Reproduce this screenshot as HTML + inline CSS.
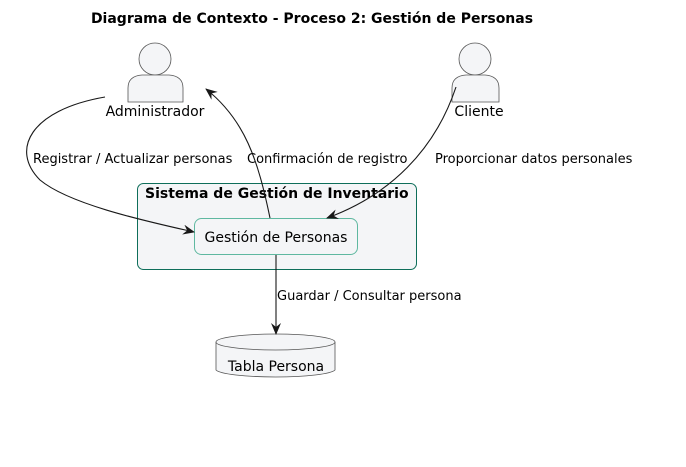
<!DOCTYPE html>
<html><head><meta charset="utf-8"><style>
html,body{margin:0;padding:0;background:#fff;}
svg{display:block;font-family:"DejaVu Sans","Liberation Sans",sans-serif;}
</style></head><body>
<svg width="686" height="467" viewBox="0 0 686 467" xmlns="http://www.w3.org/2000/svg">
<defs>
<marker id="a" viewBox="0 0 12 10" refX="11" refY="5" markerWidth="12" markerHeight="10" markerUnits="userSpaceOnUse" orient="auto">
<path d="M0,0 L12,5 L0,10 L4,5 Z" fill="#181818"/>
</marker>
</defs>
<text x="312" y="23" text-anchor="middle" font-size="14" font-weight="bold" fill="#000">Diagrama de Contexto - Proceso 2: Gestión de Personas</text>

<circle cx="155" cy="59" r="16" fill="#f4f5f7" stroke="#555" stroke-width="0.8"/>
<path d="M128,102 L128,88 Q128,76 142,75 L169,75 Q183,76 183,88 L183,102 Z" fill="#f4f5f7" stroke="#555" stroke-width="0.8"/>
<text x="155" y="116" text-anchor="middle" font-size="14" fill="#000">Administrador</text>

<circle cx="475" cy="59" r="16" fill="#f4f5f7" stroke="#555" stroke-width="0.8"/>
<path d="M452,102 L452,88 Q452,76 466,75 L485,75 Q499,76 499,88 L499,102 Z" fill="#f4f5f7" stroke="#555" stroke-width="0.8"/>
<text x="479" y="116" text-anchor="middle" font-size="14" fill="#000">Cliente</text>

<rect x="137.5" y="183.5" width="279" height="86" rx="6" fill="#f4f5f7" stroke="#0e6e5a" stroke-width="1"/>
<text x="145" y="198" font-size="14" font-weight="bold" fill="#000">Sistema de Gestión de Inventario</text>
<rect x="194.5" y="218.5" width="163" height="36" rx="7" fill="#f4f5f7" stroke="#5fb8a0" stroke-width="1"/>
<text x="276" y="242" text-anchor="middle" font-size="14" fill="#000">Gestión de Personas</text>

<path d="M216,342 L216,370 A60,8 0 0 0 335,370 L335,342" fill="#f4f5f7" stroke="#555" stroke-width="0.8"/>
<ellipse cx="275.5" cy="342" rx="59.5" ry="8" fill="#f4f5f7" stroke="#555" stroke-width="0.8"/>
<text x="276" y="371" text-anchor="middle" font-size="14" fill="#000">Tabla Persona</text>

<path d="M105,97 C30,110 10,150 40,180 C70,205 150,222 194,232" fill="none" stroke="#181818" stroke-width="1.1" marker-end="url(#a)"/>
<text x="33" y="163" font-size="13" fill="#000">Registrar / Actualizar personas</text>

<path d="M270,218 C258,160 245,120 206,89" fill="none" stroke="#181818" stroke-width="1.1" marker-end="url(#a)"/>
<text x="247" y="163" font-size="13" fill="#000">Confirmación de registro</text>

<path d="M456,87 C435,150 390,195 327,218" fill="none" stroke="#181818" stroke-width="1.1" marker-end="url(#a)"/>
<text x="435" y="163" font-size="13" fill="#000">Proporcionar datos personales</text>

<path d="M276,255 L276,334" fill="none" stroke="#181818" stroke-width="1.1" marker-end="url(#a)"/>
<text x="277" y="300" font-size="13" fill="#000">Guardar / Consultar persona</text>
</svg>
</body></html>
